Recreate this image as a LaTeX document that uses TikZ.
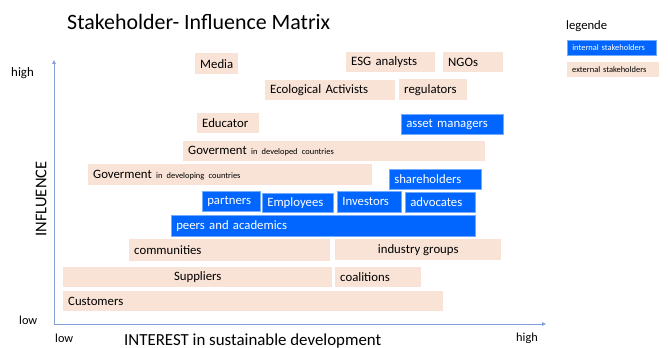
\documentclass[tikz,border=0pt]{standalone}
\usepackage{fontspec}
\setmainfont{Carlito}
\usetikzlibrary{arrows.meta}

\definecolor{peach}{RGB}{249,227,214}
\definecolor{azure}{RGB}{0,102,255}
\definecolor{axisblue}{RGB}{130,160,215}

\begin{document}
\begin{tikzpicture}[
  x=0.3mm, y=-0.3mm,
  sbox/.style={fill=peach, anchor=north west, inner xsep=5*0.3mm, inner ysep=0pt,
    minimum height=20*0.3mm, font=\fontsize{10.9}{13}\selectfont},
  ibox/.style={sbox, fill=azure, draw=azure!55!white, line width=0.5pt, text=white},
  boxw/.style={minimum width=#1*0.3mm},
  lboxw/.style={minimum width=#1*0.3mm, text width=#1*0.3mm-10*0.3mm},
  legbox/.style={minimum height=15*0.3mm, font=\fontsize{7.2}{8}\selectfont},
  axis/.style={draw=axisblue, line width=0.7pt, -{Triangle[length=1.2mm, width=1.1mm]}},
  alabel/.style={font=\fontsize{10.5}{12}\selectfont, anchor=west, inner sep=0pt}
]
  \useasboundingbox (0,0) rectangle (668,348);

  % --- TITEL UND LEGENDE ---
  \node[anchor=west, inner sep=0pt, font=\fontsize{18.7}{22}\selectfont] (title) at (67,22) {Stakeholder- Influence Matrix};
  \node[alabel, font=\fontsize{10.8}{12}\selectfont] (legende) at (566,26) {legende};
  \node[ibox, legbox, lboxw=89] (legint) at (567,40) {internal stakeholders};
  \node[sbox, legbox, lboxw=92] (legext) at (567,62) {external stakeholders};

  % --- ACHSEN ---
  \coordinate (origin) at (54,324);
  \coordinate (ytop) at (54,60);
  \coordinate (xend) at (546,324);
  \draw[axis] (origin) -- (ytop);
  \draw[axis] (origin) -- (xend);

  \node[alabel, font=\fontsize{11}{12}\selectfont] (yhigh) at (11,73) {high};
  \node[alabel] (ylow) at (19,320) {low};
  \node[alabel] (xlow) at (55,338) {low};
  \node[alabel] (xhigh) at (516,338) {high};
  \node[anchor=west, inner sep=0pt, font=\fontsize{14.4}{16}\selectfont] (interest) at (124,341) {INTEREST in sustainable development};
  \node[rotate=90, inner sep=0pt, font=\fontsize{14}{16}\selectfont] (influence) at (41,199) {INFLUENCE};

  % --- OBERE REIHEN ---
  \node[sbox, boxw=43, minimum height=21*0.3mm] (media) at (195,53) {Media};
  \node[sbox, lboxw=89] (esg) at (346,52) {ESG analysts};
  \node[sbox, lboxw=60] (ngos) at (443,52) {NGOs};
  \node[sbox, lboxw=130] (activists) at (265,80) {Ecological Activists};
  \node[sbox, lboxw=68, minimum height=21*0.3mm] (regulators) at (399,79) {regulators};
  \node[sbox, lboxw=62] (educator) at (197,113) {Educator};
  \node[ibox, lboxw=102] (assetmgr) at (401,114) {asset managers};

  % --- REGIERUNGEN ---
  \node[sbox, lboxw=302] (govdev) at (183,141) {Goverment {\fontsize{7.2}{8}\selectfont in developed countries}};
  \node[sbox, lboxw=284, minimum height=21*0.3mm] (govdvl) at (88,164) {Goverment {\fontsize{7.2}{8}\selectfont in developing countries}};
  \node[ibox, lboxw=92] (shareholders) at (389,169) {shareholders};

  % --- INTERNE STAKEHOLDER ---
  \node[ibox, lboxw=58] (partners) at (202,191) {partners};
  \node[ibox, lboxw=71, minimum height=19*0.3mm] (employees) at (262,193) {Employees};
  \node[ibox, lboxw=64, minimum height=21*0.3mm] (investors) at (337,191) {Investors};
  \node[ibox, lboxw=70] (advocates) at (405,192) {advocates};
  \node[ibox, lboxw=304, minimum height=21*0.3mm] (peers) at (171,215) {peers and academics};

  % --- UNTERE REIHEN ---
  \node[sbox, lboxw=201, minimum height=22*0.3mm] (communities) at (129,239) {communities};
  \node[sbox, boxw=166, minimum height=21*0.3mm] (industry) at (335,239) {industry groups};
  \node[sbox, boxw=269] (suppliers) at (63,267) {Suppliers};
  \node[sbox, lboxw=86] (coalitions) at (335,267) {coalitions};
  \node[sbox, lboxw=380] (customers) at (63,291) {Customers};
\end{tikzpicture}
\end{document}
